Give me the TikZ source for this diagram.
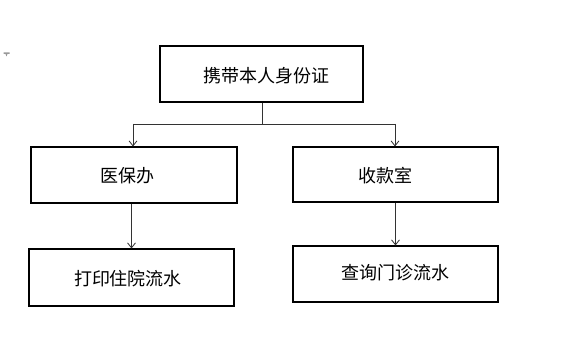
\documentclass[tikz,border=0pt]{standalone}
\usepackage{fontspec}
\newfontfamily\cjk{Noto Sans CJK SC}
\usetikzlibrary{arrows.meta,calc}
\begin{document}
\begin{tikzpicture}[x=1pt,y=-1pt,
  box/.style={draw=black,line width=1.1pt,rectangle,inner sep=0pt},
  lbl/.style={font=\cjk\fontsize{18}{20}\selectfont,inner sep=0pt},
  conn/.style={draw=black!80,line width=0.9pt},
  arr/.style={conn,-{Straight Barb[length=5pt,width=8pt,line width=0.8pt]}}]
\useasboundingbox[fill=white] (0,0) rectangle (579,347);
\node[box,minimum width=203pt,minimum height=56pt] (top) at (261.5,74) {};
\node[lbl] (ttop) at (266,76) {携带本人身份证};
\node[box,minimum width=206pt,minimum height=56pt] (lm) at (134,175) {};
\node[lbl] (tlm) at (127,176) {医保办};
\node[box,minimum width=205pt,minimum height=55pt] (rm) at (395.5,174.5) {};
\node[lbl] (trm) at (385,176) {收款室};
\node[box,minimum width=205pt,minimum height=57pt] (lb) at (131.5,277.5) {};
\node[lbl] (tlb) at (128,279) {打印住院流水};
\node[box,minimum width=205pt,minimum height=56pt] (rb) at (395.5,274) {};
\node[lbl] (trb) at (395,273) {查询门诊流水};
\coordinate (j) at (262,124);
\coordinate (jl) at (133,124);
\coordinate (jr) at (395,124);
\draw[conn] (top.south -| j) -- (j);
\draw[conn] (jl) -- (jr);
\draw[arr] (jl) -- (jl |- lm.north);
\draw[arr] (jr) -- (jr |- rm.north);
\draw[arr] (lm.south -| lb.north) -- (lb.north);
\draw[arr] (rm.south -| rb.north) -- (rb.north);
\fill[black!40] (3.5,52.5) -- (9.5,52.5) -- (9.5,54) -- (7.5,54) -- (6.5,56.5) -- (5.5,54) -- (3.5,54) -- cycle;
\end{tikzpicture}
\end{document}
